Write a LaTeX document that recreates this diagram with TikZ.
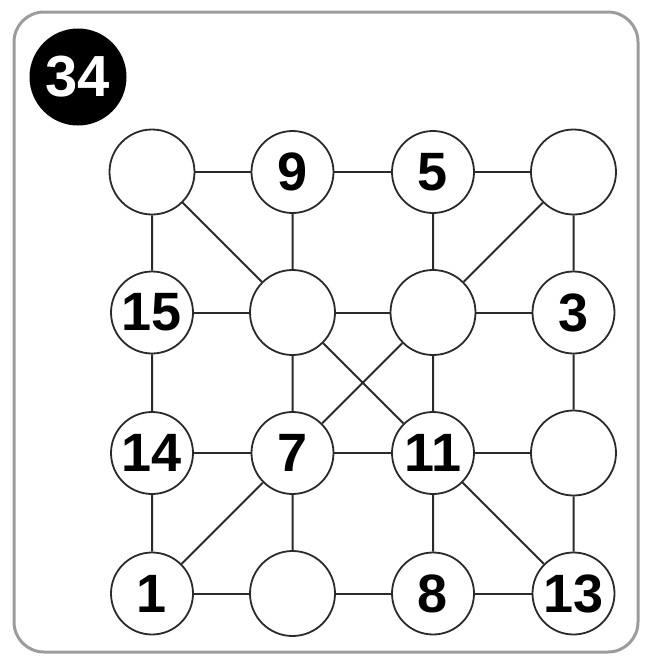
\documentclass[tikz,border=0pt]{standalone}
\usepackage{fontspec}
\setmainfont{Liberation Sans}
\usetikzlibrary{positioning}
\definecolor{frame}{HTML}{9C9C9C}
\definecolor{ink}{HTML}{2A2A2A}

\begin{document}
\begin{tikzpicture}[x=1pt, y=-1pt, node distance=140.5pt and 140.5pt, on grid,
  spot/.style={circle, draw=ink, line width=1.8pt, fill=white, minimum size=82pt, inner sep=0pt, font=\fontsize{54}{54}\selectfont\bfseries},
  blank/.style={spot, minimum size=85pt},
  link/.style={draw=ink, line width=2pt}]
\useasboundingbox (0,0) rectangle (645,659);
\draw[frame, line width=3pt, rounded corners=30pt] (14,12) rectangle (638,652);
\node[circle, fill=black, minimum size=97pt, inner sep=0pt, text=white, font=\fontsize{58}{58}\selectfont\bfseries] (badge) at (78,77) {34};
% row 1
\node[blank] (tl) at (152,172) {};
\node[spot, right=of tl] (n9) {9};
\node[spot, right=of n9] (n5) {5};
\node[blank, right=of n5] (tr) {};
% row 2
\node[spot, below=of tl] (n15) {15};
\node[blank, right=of n15] (ma) {};
\node[blank, right=of ma] (mb) {};
\node[spot, right=of mb] (n3) {3};
% row 3
\node[spot, below=of n15] (n14) {14};
\node[spot, right=of n14] (n7) {7};
\node[spot, right=of n7] (n11) {11};
\node[blank, right=of n11] (mr) {};
% row 4
\node[spot, below=of n14] (n1) {1};
\node[blank, right=of n1] (bb) {};
\node[spot, right=of bb] (n8) {8};
\node[spot, right=of n8] (n13) {13};
% connectors
\draw[link] (tl) -- (n9) (n9) -- (n5) (n5) -- (tr);
\draw[link] (tl) -- (n15) (tl) -- (ma) (n9) -- (ma) (n5) -- (mb) (tr) -- (mb) (tr) -- (n3);
\draw[link] (n15) -- (ma) (ma) -- (mb) (mb) -- (n3);
\draw[link] (n15) -- (n14) (ma) -- (n7) (ma) -- (n11) (mb) -- (n7) (mb) -- (n11) (n3) -- (mr);
\draw[link] (n14) -- (n7) (n7) -- (n11) (n11) -- (mr);
\draw[link] (n14) -- (n1) (n7) -- (n1) (n7) -- (bb) (n11) -- (n8) (n11) -- (n13) (mr) -- (n13);
\draw[link] (n1) -- (bb) (bb) -- (n8) (n8) -- (n13);
\end{tikzpicture}
\end{document}
